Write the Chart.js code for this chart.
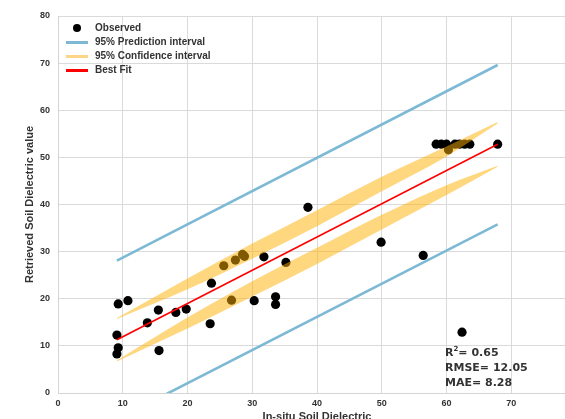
<!DOCTYPE html>
<html>
<head>
<meta charset="utf-8">
<script src="https://cdn.jsdelivr.net/npm/chart.js@4.4.1/dist/chart.umd.min.js"></script>
<style>
  html, body { margin: 0; padding: 0; background: #fff; overflow: hidden; }
  #frame { position: relative; width: 565px; height: 419px; overflow: hidden; }
  #chart { position: absolute; left: 0; top: 0; }
  .legend { position: absolute; left: 0; top: 0; font: bold 10px "Liberation Sans", Arial, sans-serif; color: #333; }
  .legend .row { position: absolute; left: 66px; height: 14px; line-height: 14px; white-space: nowrap; }
  .legend .mark { position: absolute; left: 0; width: 22px; top: 6px; height: 2.5px; }
  .legend .dot { position: absolute; left: 7px; top: 3px; width: 8px; height: 8px; border-radius: 50%; background: #000; }
  .legend .txt { position: absolute; left: 29px; top: 0; }
  .stats { position: absolute; left: 445px; top: 345px; font: bold 11px "DejaVu Sans", sans-serif; color: #333; line-height: 15px; white-space: nowrap; }
</style>
</head>
<body>
<div id="frame">
  <canvas id="chart" width="590" height="430"></canvas>
  <div class="legend">
    <div class="row" style="top:21px"><span class="dot"></span><span class="txt">Observed</span></div>
    <div class="row" style="top:35px"><span class="mark" style="background:#7db9d5"></span><span class="txt">95% Prediction interval</span></div>
    <div class="row" style="top:49px"><span class="mark" style="background:#fdd586"></span><span class="txt">95% Confidence interval</span></div>
    <div class="row" style="top:63px"><span class="mark" style="background:#ff0000"></span><span class="txt">Best Fit</span></div>
  </div>
  <div class="stats">
    <div>R<sup style="font-size:7px;vertical-align:5px;line-height:0">2</sup>= 0.65</div>
    <div>RMSE= 12.05</div>
    <div>MAE= 8.28</div>
  </div>
</div>
<script>
// observed points (in-situ vs retrieved)
const obsX = [9.1, 9.3, 9.1, 9.3, 10.8, 13.8, 15.5, 15.6, 18.2, 19.8, 23.5, 23.7, 26.8, 25.6, 27.4,
  28.5, 28.8, 30.3, 31.8, 33.6, 33.6, 35.2, 38.6, 49.9, 56.4, 62.4,
  58.4, 59.2, 60.0, 60.3, 61.3, 62.0, 62.8, 63.6, 67.9];
const obsY = [8.3, 9.6, 12.3, 18.9, 19.6, 14.9, 17.6, 9.0, 17.1, 17.8, 14.7, 23.3, 19.7, 27.0, 28.2,
  29.4, 29.0, 19.6, 28.9, 20.4, 18.8, 27.7, 39.4, 32.0, 29.2, 12.9,
  52.8, 52.8, 52.8, 51.6, 52.8, 52.8, 52.8, 52.8, 52.8];

// best fit line
const fitX = [9.1, 67.9];
const fitY = [11.3, 52.8];

// 95% prediction interval
const predX = [9.1, 67.9];
const predUpper = [28.1, 69.6];
const predLower = [-5.6, 35.8];

// 95% confidence interval (drawn as two shaded stripes)
const ciX = [9.1, 20, 30, 40, 50, 60, 67.9];
const ciUpperOuter = [15.9, 24.3, 31.7, 38.8, 45.9, 52.3, 57.5];
const ciUpperInner = [15.7, 22.0, 28.5, 35.4, 42.8, 50.2, 57.2];
const ciLowerInner = [6.9, 16.0, 23.7, 30.8, 37.8, 44.1, 48.2];
const ciLowerOuter = [6.7, 13.7, 20.5, 27.4, 34.7, 42.0, 48.0];

const xTicks = [0, 10, 20, 30, 40, 50, 60, 70, 80];
const yTicks = [0, 10, 20, 30, 40, 50, 60, 70, 80];

const pts = (xs, ys) => xs.map((x, i) => ({ x, y: ys[i] }));
const bandFill = 'rgba(255,175,0,0.5)';

const band = (data, fillTarget) => ({
  type: 'line', data, borderWidth: 0, pointRadius: 0,
  borderColor: 'rgba(0,0,0,0)', backgroundColor: bandFill,
  fill: fillTarget, order: 2, cubicInterpolationMode: 'monotone'
});

const tickFont = { family: 'Liberation Sans', size: 9, weight: 'bold' };
const titleFont = { family: 'Liberation Sans', size: 11, weight: 'bold' };

new Chart(document.getElementById('chart'), {
  type: 'scatter',
  data: {
    datasets: [
      { type: 'line', label: 'Best Fit', data: pts(fitX, fitY), borderColor: '#ff0000', borderWidth: 1.6, pointRadius: 0, fill: false, order: 0 },
      { type: 'line', label: 'upper pred', data: pts(predX, predUpper), borderColor: '#7db9d5', borderWidth: 2.6, pointRadius: 0, fill: false, order: 1 },
      { type: 'line', label: 'lower pred', data: pts(predX, predLower), borderColor: '#7db9d5', borderWidth: 2.6, pointRadius: 0, fill: false, order: 1 },
      band(pts(ciX, ciUpperOuter), 4),
      band(pts(ciX, ciUpperInner), false),
      band(pts(ciX, ciLowerInner), 6),
      band(pts(ciX, ciLowerOuter), false),
      { label: 'Observed', data: pts(obsX, obsY), backgroundColor: '#000', borderColor: '#000', pointRadius: 4.6, borderWidth: 0, order: 3 }
    ]
  },
  options: {
    responsive: false,
    animation: false,
    devicePixelRatio: 1,
    layout: { padding: { top: 16, right: 14, left: 0, bottom: 0 } },
    plugins: { legend: { display: false }, tooltip: { enabled: false } },
    scales: {
      x: {
        type: 'linear', min: 0, max: 80,
        afterBuildTicks: s => { s.ticks = xTicks.map(v => ({ value: v })); },
        afterFit: s => { s.height = 37; },
        ticks: { padding: 5, color: '#333', font: tickFont },
        grid: { color: '#dadada', lineWidth: 1, drawTicks: false },
        border: { color: '#d4d4d4', width: 1 },
        title: { display: true, text: 'In-situ Soil Dielectric', color: '#333', font: titleFont, padding: { top: 0, bottom: 6 } }
      },
      y: {
        type: 'linear', min: 0, max: 80,
        afterBuildTicks: s => { s.ticks = yTicks.map(v => ({ value: v })); },
        afterFit: s => { s.width = 58; },
        ticks: { padding: 8, color: '#333', font: tickFont },
        grid: { color: '#dadada', lineWidth: 1, drawTicks: false },
        border: { color: '#d4d4d4', width: 1 },
        title: { display: true, text: 'Retrieved Soil Dielectric value', color: '#333', font: titleFont, padding: { top: 23, bottom: 0 } }
      }
    }
  }
});
</script>
</body>
</html>
